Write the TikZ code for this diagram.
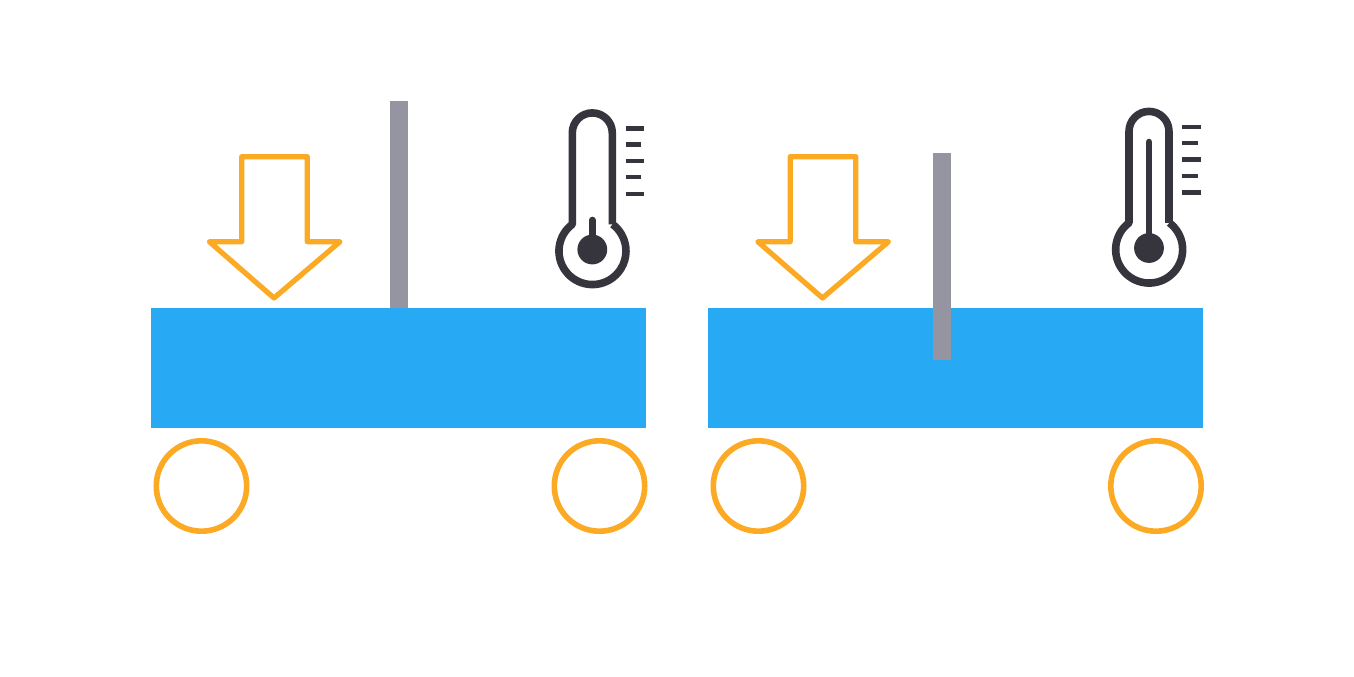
\documentclass[tikz,border=0pt]{standalone}
\definecolor{beam}{HTML}{27A9F3}
\definecolor{amber}{HTML}{FCAA23}
\definecolor{probe}{HTML}{9595A1}
\definecolor{ink}{HTML}{36353D}
\tikzset{
  beamrect/.style={fill=beam,draw=none},
  proberect/.style={fill=probe,draw=none},
  roller/.style={draw=amber,line width=5.6pt},
  loadarrow/.style={draw=amber,line width=5.2pt,line join=round},
  thermoline/.style={draw=ink,line width=7.6pt},
  thermostem/.style={draw=ink,line width=6.6pt,line cap=round},
  tick/.style={draw=ink,line width=4.4pt},
}
\newcommand{\thermo}[3]{%
  \begin{scope}[shift={(#1,#2)}]
    \draw[thermoline,line join=round] (612.3,224.3) -- (612.3,132.9) arc (360:180:20) -- (572.3,224.3) arc (233:-53:33.5);
    \fill[ink] (592.3,249.5) circle (14.9);
    \draw[thermostem] (592.3,249.5) -- (592.3,#3);
    \foreach \yy/\xe in {128.3/644,144.6/641.3,161/644,177.2/641.3,193.8/644}
      \draw[tick] (625.7,\yy) -- (\xe,\yy);
  \end{scope}}
\begin{document}
\begin{tikzpicture}[x=1pt,y=-1pt]
\useasboundingbox (0,0) rectangle (1354,677);
\fill[white] (0,0) rectangle (1354,677);
% left assembly
\fill[proberect] (389.5,101) rectangle (408,309);
\fill[beamrect] (151,308) rectangle (646,428);
\draw[roller] (201.5,486) circle (45.2);
\draw[roller] (599.5,486) circle (45.2);
\draw[loadarrow] (241.7,156.7) -- (307.3,156.7) -- (307.3,241.7) -- (340,241.7) -- (274,298) -- (209.3,241.7) -- (241.7,241.7) -- cycle;
\thermo{0}{0}{220}
% right assembly
\fill[beamrect] (708,308) rectangle (1203,428);
\fill[proberect] (933,152.5) rectangle (951,360);
\draw[roller] (758.5,486) circle (45.2);
\draw[roller] (1156,486) circle (45.2);
\draw[loadarrow] (790.2,156.7) -- (855.8,156.7) -- (855.8,241.7) -- (888.5,241.7) -- (822.5,298) -- (757.8,241.7) -- (790.2,241.7) -- cycle;
\thermo{556.7}{-1.5}{143.5}
\end{tikzpicture}
\end{document}
